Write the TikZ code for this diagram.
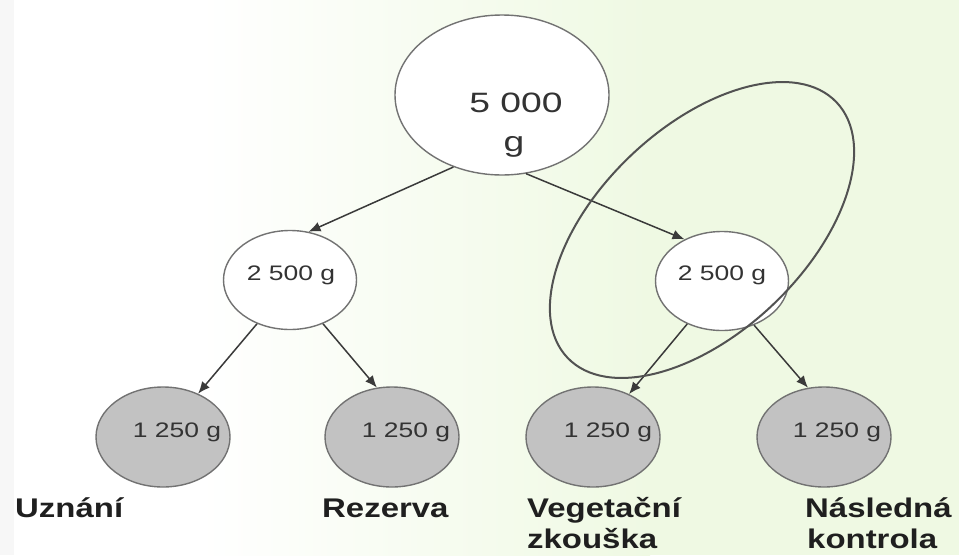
\documentclass[tikz,border=0pt]{standalone}
\usepackage{fontspec}
\setmainfont{Liberation Sans}
\newfontfamily\numfont[FakeStretch=1.33]{Liberation Sans}
\newfontfamily\smallnumfont[FakeStretch=1.26]{Liberation Sans}
\newfontfamily\labfont[FakeStretch=1.22]{Liberation Sans Bold}
\usetikzlibrary{shapes.geometric,arrows.meta}
\definecolor{bggreen}{HTML}{EFF9E3}
\definecolor{edgegray}{HTML}{727272}
\definecolor{fillgray}{HTML}{C2C2C2}
\definecolor{numcol}{HTML}{333333}
\definecolor{arrowcol}{HTML}{3A3A3A}
\tikzset{
  whitebub/.style={ellipse,draw=edgegray,line width=1.4pt,fill=white,inner sep=0pt},
  graybub/.style={ellipse,draw=edgegray,line width=1.4pt,fill=fillgray,inner sep=0pt,minimum width=134pt,minimum height=100pt},
  midbub/.style={whitebub,minimum width=133pt,minimum height=99pt},
  numtext/.style={anchor=base,inner sep=0pt,text=numcol,font=\smallnumfont\fontsize{21}{25}\selectfont},
  bigtext/.style={anchor=base,inner sep=0pt,text=numcol,font=\numfont\fontsize{28}{34}\selectfont},
  labtext/.style={anchor=base west,inner sep=0pt,text=black!88,font=\labfont\fontsize{27}{31}\selectfont},
  conn/.style={draw=arrowcol,line width=1.5pt,-{Latex[length=12pt,width=10pt]}},
  groupring/.style={ellipse,draw=black!68,line width=2pt,inner sep=0pt}
}
\begin{document}
\begin{tikzpicture}[x=1pt,y=-1pt]
\useasboundingbox (0,0) rectangle (959,555);
% background
\fill[white] (0,0) rectangle (200,555);
\shade[left color=white,right color=bggreen] (200,0) rectangle (650,555);
\fill[bggreen] (650,0) rectangle (959,555);
\fill[black!3] (0,0) rectangle (14,555);
% nodes
\node[whitebub,minimum width=214pt,minimum height=160pt] (top) at (502,95) {};
\node[midbub] (midL) at (290,280) {};
\node[midbub] (midR) at (722,281) {};
\node[graybub] (b1) at (163,437) {};
\node[graybub] (b2) at (392,437) {};
\node[graybub] (b3) at (593,437) {};
\node[graybub] (b4) at (824,437) {};
% texts
\node[bigtext] (t0a) at (516,112) {5 000};
\node[bigtext] (t0b) at (514,151) {g};
\node[numtext] (tL) at (291,280) {2 500 g};
\node[numtext] (tR) at (722,280) {2 500 g};
\node[numtext] (t1) at (177,437) {1 250 g};
\node[numtext] (t2) at (406,437) {1 250 g};
\node[numtext] (t3) at (608,437) {1 250 g};
\node[numtext] (t4) at (837,437) {1 250 g};
\node[labtext] (l1) at (15,517) {Uznání};
\node[labtext] (l2) at (322,517) {Rezerva};
\node[labtext] (l3a) at (527,517) {Vegetační};
\node[labtext] (l3b) at (527,548) {zkouška};
\node[labtext] (l4a) at (805,517) {Následná};
\node[labtext] (l4b) at (807,548) {kontrola};
% connectors
\draw[conn] (top.236) -- (midL.69);
\draw[conn] (top.287) -- (midR.132);
\draw[conn] (midL.233) -- (b1.51);
\draw[conn] (midL.307) -- (b2.107);
\draw[conn] (midR.231) -- (b3.50);
\draw[conn] (midR.306) -- (b4.108);
% grouping ring
\node[groupring,rotate=43.5,minimum width=371pt,minimum height=206pt] (ring) at (702,230) {};
\end{tikzpicture}
\end{document}
